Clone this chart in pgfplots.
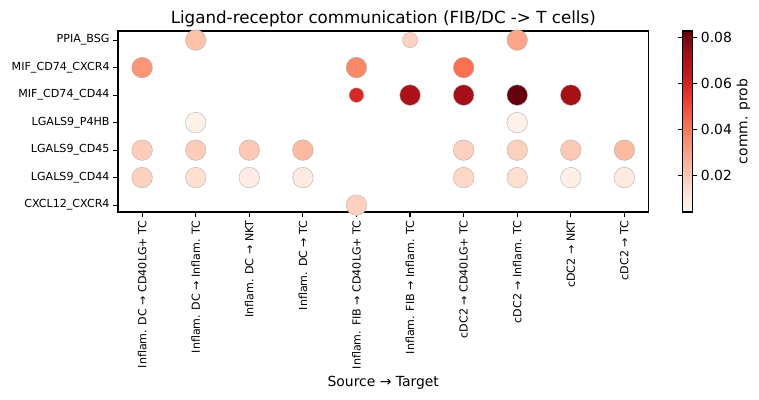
\documentclass[border=0pt]{standalone}
\usepackage{pgfplots}
\pgfplotsset{compat=1.18}
\usepackage{pgfplotstable}
\usepackage{fontspec}
\setmainfont{DejaVu Sans}

\pgfplotstableread{
x y v r
1 6 0.022 10.3
5 6 0.0175 7.6
7 6 0.029 10.3
0 5 0.033 10.3
4 5 0.036 10.3
6 5 0.042 10.3
4 4 0.059 7.3
5 4 0.071 10.3
6 4 0.073 10.3
7 4 0.083 10.3
8 4 0.072 10.3
1 3 0.006 10.3
7 3 0.006 10.3
0 2 0.019 10.3
1 2 0.019 10.3
2 2 0.020 10.3
3 2 0.024 10.3
6 2 0.018 10.3
7 2 0.018 10.3
8 2 0.020 10.3
9 2 0.024 10.3
0 1 0.018 10.3
1 1 0.014 10.3
2 1 0.008 10.3
3 1 0.009 10.3
6 1 0.016 10.3
7 1 0.014 10.3
8 1 0.007 10.3
9 1 0.009 10.3
4 0 0.018 10.3
}\data

\begin{document}
\begin{tikzpicture}[x=1pt,y=1pt]
\path[use as bounding box] (0,0) rectangle (759,399);
\begin{axis}[
  at={(118pt,187pt)}, anchor=south west,
  scale only axis, width=530.5pt, height=181pt,
  xmin=-0.45, xmax=9.45, ymin=-0.25, ymax=6.33,
  clip=false,
  axis line style={line width=1.1pt},
  tick align=outside, major tick length=4.9pt,
  tick style={black, line width=1.1pt},
  xtick pos=bottom, ytick pos=left,
  xtick={0,...,9},
  xticklabels={Inflam. DC → CD40LG+ TC, Inflam. DC → Inflam. TC, Inflam. DC → NKT, Inflam. DC → TC, Inflam. FIB → CD40LG+ TC, Inflam. FIB → Inflam. TC, cDC2 → CD40LG+ TC, cDC2 → Inflam. TC, cDC2 → NKT, cDC2 → TC},
  x tick label style={rotate=90, anchor=east, font=\fontsize{11.1}{13}\selectfont},
  ytick={0,...,6},
  yticklabels={CXCL12\_CXCR4, LGALS9\_CD44, LGALS9\_CD45, LGALS9\_P4HB, MIF\_CD74\_CD44, MIF\_CD74\_CXCR4, PPIA\_BSG},
  y tick label style={font=\fontsize{11.1}{13}\selectfont},
  xlabel={Source → Target},
  xlabel style={font=\fontsize{13.9}{16}\selectfont},
  title={Ligand-receptor communication (FIB/DC -> T cells)},
  title style={font=\fontsize{16.7}{19}\selectfont, yshift=-6pt},
  colormap={reds}{rgb255=(255,245,240) rgb255=(254,224,210) rgb255=(252,187,161) rgb255=(252,146,114) rgb255=(251,106,74) rgb255=(239,59,44) rgb255=(203,24,29) rgb255=(165,15,21) rgb255=(103,0,13)},
  point meta min=0.004, point meta max=0.083,
  colorbar,
  colorbar style={
    at={(parent axis.north east)}, anchor=north west, xshift=25.5pt,
    scale only axis, width=10pt, height=181pt,
    axis line style={line width=1.1pt},
    ytick={0.02,0.04,0.06,0.08},
    scaled y ticks=false,
    yticklabel pos=right,
    tick align=outside, major tick length=4.9pt,
    tick style={black, line width=1.1pt},
    yticklabel style={font=\fontsize{13.9}{16}\selectfont, /pgf/number format/.cd, fixed, fixed zerofill, precision=2, assume math mode=true},
    ylabel={comm. prob},
    ylabel style={font=\fontsize{13.9}{16}\selectfont, at={(axis description cs:6.1,0.5)}, anchor=center, rotate=0},
  },
]
\addplot[scatter, only marks, mark=*, scatter src=explicit,
  scatter/use mapped color={draw=black!30, fill=mapped color},
  visualization depends on={\thisrow{r}\as\rad},
  scatter/@pre marker code/.append style={/tikz/mark size=\rad pt},
  mark options={line width=0.4pt}]
  table[x=x, y=y, meta=v]{\data};
\end{axis}
\end{tikzpicture}
\end{document}
